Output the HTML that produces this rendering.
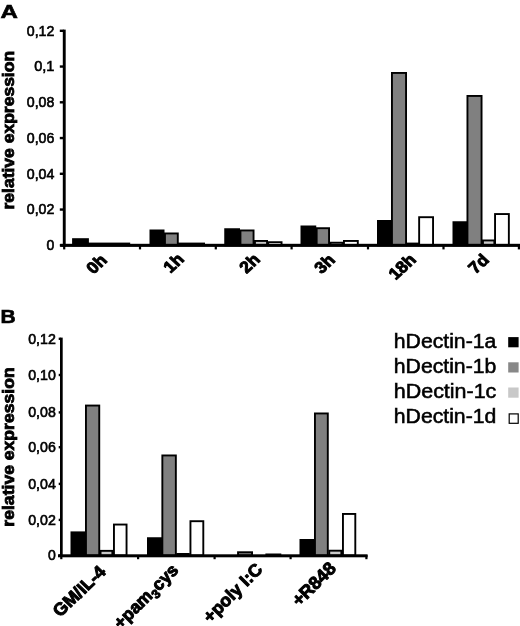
<!DOCTYPE html>
<html><head><meta charset="utf-8"><title>Figure</title>
<style>
html,body{margin:0;padding:0;background:#fff;}
svg{display:block;}
text{font-family:"Liberation Sans",Arial,Helvetica,sans-serif;fill:#000;}
</style></head>
<body>
<svg width="520" height="626" viewBox="0 0 520 626">
<rect width="520" height="626" fill="#fff"/>
<g shape-rendering="auto">
<rect x="73.05" y="239.15" width="14.90" height="6.15" fill="#000" stroke="#000" stroke-width="1.9"/>
<rect x="88.95" y="243.55" width="40.30" height="1.75" fill="#000" stroke="#000" stroke-width="1.9"/>
<rect x="150.45" y="230.45" width="13.10" height="14.85" fill="#000" stroke="#000" stroke-width="1.9"/>
<rect x="164.95" y="233.45" width="12.85" height="11.85" fill="#808080" stroke="#000" stroke-width="1.9"/>
<rect x="178.95" y="243.55" width="25.10" height="1.75" fill="#000" stroke="#000" stroke-width="1.9"/>
<rect x="225.20" y="229.20" width="13.85" height="16.10" fill="#000" stroke="#000" stroke-width="1.9"/>
<rect x="240.45" y="230.45" width="13.10" height="14.85" fill="#808080" stroke="#000" stroke-width="1.9"/>
<rect x="254.95" y="240.95" width="12.10" height="4.35" fill="#c8c8c8" stroke="#000" stroke-width="1.9"/>
<rect x="268.25" y="242.20" width="13.30" height="3.10" fill="#fff" stroke="#000" stroke-width="1.9"/>
<rect x="301.45" y="226.45" width="13.85" height="18.85" fill="#000" stroke="#000" stroke-width="1.9"/>
<rect x="316.65" y="228.20" width="12.40" height="17.10" fill="#808080" stroke="#000" stroke-width="1.9"/>
<rect x="330.45" y="242.70" width="12.10" height="2.60" fill="#c8c8c8" stroke="#000" stroke-width="1.9"/>
<rect x="343.95" y="240.95" width="13.85" height="4.35" fill="#fff" stroke="#000" stroke-width="1.9"/>
<rect x="377.95" y="220.95" width="13.60" height="24.35" fill="#000" stroke="#000" stroke-width="1.9"/>
<rect x="391.95" y="72.95" width="14.10" height="172.35" fill="#808080" stroke="#000" stroke-width="1.9"/>
<rect x="407.25" y="243.55" width="10.80" height="1.75" fill="#000" stroke="#000" stroke-width="1.9"/>
<rect x="419.15" y="217.20" width="13.90" height="28.10" fill="#fff" stroke="#000" stroke-width="1.9"/>
<rect x="453.45" y="222.20" width="13.60" height="23.10" fill="#000" stroke="#000" stroke-width="1.9"/>
<rect x="467.45" y="95.95" width="14.10" height="149.35" fill="#808080" stroke="#000" stroke-width="1.9"/>
<rect x="482.95" y="240.45" width="11.40" height="4.85" fill="#c8c8c8" stroke="#000" stroke-width="1.9"/>
<rect x="495.05" y="214.05" width="13.80" height="31.25" fill="#fff" stroke="#000" stroke-width="1.9"/>
<rect x="71.45" y="532.35" width="13.35" height="23.15" fill="#000" stroke="#000" stroke-width="1.9"/>
<rect x="85.95" y="405.55" width="13.30" height="149.95" fill="#808080" stroke="#000" stroke-width="1.9"/>
<rect x="100.55" y="550.85" width="11.80" height="4.65" fill="#c8c8c8" stroke="#000" stroke-width="1.9"/>
<rect x="113.95" y="524.55" width="12.60" height="30.95" fill="#fff" stroke="#000" stroke-width="1.9"/>
<rect x="147.95" y="538.20" width="13.40" height="17.30" fill="#000" stroke="#000" stroke-width="1.9"/>
<rect x="162.35" y="455.45" width="13.50" height="100.05" fill="#808080" stroke="#000" stroke-width="1.9"/>
<rect x="177.20" y="553.95" width="11.65" height="1.55" fill="#c8c8c8" stroke="#000" stroke-width="1.9"/>
<rect x="190.45" y="521.20" width="12.85" height="34.30" fill="#fff" stroke="#000" stroke-width="1.9"/>
<rect x="238.05" y="552.25" width="14.00" height="3.25" fill="#808080" stroke="#000" stroke-width="1.9"/>
<rect x="266.35" y="554.45" width="14.00" height="1.05" fill="#000" stroke="#000" stroke-width="1.9"/>
<rect x="300.45" y="539.95" width="13.10" height="15.55" fill="#000" stroke="#000" stroke-width="1.9"/>
<rect x="314.95" y="413.45" width="12.85" height="142.05" fill="#808080" stroke="#000" stroke-width="1.9"/>
<rect x="329.25" y="550.70" width="12.10" height="4.80" fill="#c8c8c8" stroke="#000" stroke-width="1.9"/>
<rect x="342.95" y="513.95" width="12.35" height="41.55" fill="#fff" stroke="#000" stroke-width="1.9"/>
</g>
<g>
<rect x="62.8" y="29.6" width="2.9" height="217.2" fill="#000"/>
<rect x="60.2" y="243.8" width="459.8" height="3.1" fill="#000"/>
<rect x="59.8" y="29.60" width="4" height="2.4" fill="#000"/>
<rect x="59.8" y="65.35" width="4" height="2.4" fill="#000"/>
<rect x="59.8" y="101.10" width="4" height="2.4" fill="#000"/>
<rect x="59.8" y="136.85" width="4" height="2.4" fill="#000"/>
<rect x="59.8" y="172.60" width="4" height="2.4" fill="#000"/>
<rect x="59.8" y="208.35" width="4" height="2.4" fill="#000"/>
<rect x="59.8" y="244.10" width="4" height="2.4" fill="#000"/>
<rect x="63.10" y="245" width="2.2" height="4.4" fill="#000"/>
<rect x="138.90" y="245" width="2.2" height="4.4" fill="#000"/>
<rect x="214.70" y="245" width="2.2" height="4.4" fill="#000"/>
<rect x="290.50" y="245" width="2.2" height="4.4" fill="#000"/>
<rect x="366.90" y="245" width="2.2" height="4.4" fill="#000"/>
<rect x="442.40" y="245" width="2.2" height="4.4" fill="#000"/>
<rect x="517.80" y="245" width="2.2" height="4.4" fill="#000"/>
<rect x="60.0" y="337.6" width="2.7" height="219.4" fill="#000"/>
<rect x="58" y="554.3" width="309.6" height="3.0" fill="#000"/>
<rect x="58.7" y="337.60" width="2" height="2.4" fill="#000"/>
<rect x="58.7" y="373.80" width="2" height="2.4" fill="#000"/>
<rect x="58.7" y="411.20" width="2" height="2.4" fill="#000"/>
<rect x="58.7" y="446.00" width="2" height="2.4" fill="#000"/>
<rect x="58.7" y="482.70" width="2" height="2.4" fill="#000"/>
<rect x="58.7" y="518.70" width="2" height="2.4" fill="#000"/>
<rect x="58.7" y="554.40" width="2" height="2.4" fill="#000"/>
<rect x="60.20" y="555" width="2.2" height="4.2" fill="#000"/>
<rect x="137.00" y="555" width="2.2" height="4.2" fill="#000"/>
<rect x="213.50" y="555" width="2.2" height="4.2" fill="#000"/>
<rect x="289.50" y="555" width="2.2" height="4.2" fill="#000"/>
<rect x="365.30" y="555" width="2.2" height="4.2" fill="#000"/>
</g>
<g>
<text x="0.6" y="17.9" font-size="19" font-weight="bold" text-anchor="start" textLength="17.4" lengthAdjust="spacingAndGlyphs" stroke="#000" stroke-width="0.6">A</text>
<text x="0.6" y="323.4" font-size="19" font-weight="bold" text-anchor="start" textLength="15.2" lengthAdjust="spacingAndGlyphs" stroke="#000" stroke-width="0.6">B</text>
<text x="54.4" y="35.60" font-size="14.1" font-weight="normal" text-anchor="end" textLength="27.6" lengthAdjust="spacingAndGlyphs" stroke="#000" stroke-width="0.6">0,12</text>
<text x="54.4" y="71.35" font-size="14.1" font-weight="normal" text-anchor="end" textLength="20.2" lengthAdjust="spacingAndGlyphs" stroke="#000" stroke-width="0.6">0,1</text>
<text x="54.4" y="107.10" font-size="14.1" font-weight="normal" text-anchor="end" textLength="27.6" lengthAdjust="spacingAndGlyphs" stroke="#000" stroke-width="0.6">0,08</text>
<text x="54.4" y="142.85" font-size="14.1" font-weight="normal" text-anchor="end" textLength="27.6" lengthAdjust="spacingAndGlyphs" stroke="#000" stroke-width="0.6">0,06</text>
<text x="54.4" y="178.60" font-size="14.1" font-weight="normal" text-anchor="end" textLength="27.6" lengthAdjust="spacingAndGlyphs" stroke="#000" stroke-width="0.6">0,04</text>
<text x="54.4" y="214.35" font-size="14.1" font-weight="normal" text-anchor="end" textLength="27.6" lengthAdjust="spacingAndGlyphs" stroke="#000" stroke-width="0.6">0,02</text>
<text x="54.4" y="250.10" font-size="14.1" font-weight="normal" text-anchor="end" textLength="7.8" lengthAdjust="spacingAndGlyphs" stroke="#000" stroke-width="0.6">0</text>
<text x="55.8" y="343.60" font-size="14.1" font-weight="normal" text-anchor="end" textLength="27.6" lengthAdjust="spacingAndGlyphs" stroke="#000" stroke-width="0.6">0,12</text>
<text x="55.8" y="379.80" font-size="14.1" font-weight="normal" text-anchor="end" textLength="27.6" lengthAdjust="spacingAndGlyphs" stroke="#000" stroke-width="0.6">0,10</text>
<text x="55.8" y="417.20" font-size="14.1" font-weight="normal" text-anchor="end" textLength="27.6" lengthAdjust="spacingAndGlyphs" stroke="#000" stroke-width="0.6">0,08</text>
<text x="55.8" y="452.00" font-size="14.1" font-weight="normal" text-anchor="end" textLength="27.6" lengthAdjust="spacingAndGlyphs" stroke="#000" stroke-width="0.6">0,06</text>
<text x="55.8" y="488.70" font-size="14.1" font-weight="normal" text-anchor="end" textLength="27.6" lengthAdjust="spacingAndGlyphs" stroke="#000" stroke-width="0.6">0,04</text>
<text x="55.8" y="524.70" font-size="14.1" font-weight="normal" text-anchor="end" textLength="27.6" lengthAdjust="spacingAndGlyphs" stroke="#000" stroke-width="0.6">0,02</text>
<text x="55.8" y="560.40" font-size="14.1" font-weight="normal" text-anchor="end" textLength="7.8" lengthAdjust="spacingAndGlyphs" stroke="#000" stroke-width="0.6">0</text>
<text transform="translate(14.3 130.2) rotate(-90) scale(1.095 1)" font-size="16" font-weight="bold" text-anchor="middle" stroke="#000" stroke-width="0.8">relative expression</text>
<text transform="translate(14.4 447) rotate(-90) scale(1.1 1)" font-size="16" font-weight="bold" text-anchor="middle" stroke="#000" stroke-width="0.8">relative expression</text>
<text transform="translate(108 261.2) scale(1.03 0.96) rotate(-45)" font-size="17" font-weight="bold" text-anchor="end" stroke="#000" stroke-width="1.0" stroke-linejoin="round">0h</text>
<text transform="translate(185 260.2) scale(1.03 0.96) rotate(-45)" font-size="17" font-weight="bold" text-anchor="end" stroke="#000" stroke-width="1.0" stroke-linejoin="round">1h</text>
<text transform="translate(261 260.5) scale(1.03 0.96) rotate(-45)" font-size="17" font-weight="bold" text-anchor="end" stroke="#000" stroke-width="1.0" stroke-linejoin="round">2h</text>
<text transform="translate(336 261) scale(1.03 0.96) rotate(-45)" font-size="17" font-weight="bold" text-anchor="end" stroke="#000" stroke-width="1.0" stroke-linejoin="round">3h</text>
<text transform="translate(417 260.7) scale(1.03 0.96) rotate(-45)" font-size="17" font-weight="bold" text-anchor="end" stroke="#000" stroke-width="1.0" stroke-linejoin="round">18h</text>
<text transform="translate(490 261) scale(1.03 0.96) rotate(-45)" font-size="17" font-weight="bold" text-anchor="end" stroke="#000" stroke-width="1.0" stroke-linejoin="round">7d</text>
<text transform="translate(106.8 573) scale(1.03 0.99) rotate(-45)" font-size="17.5" font-weight="bold" text-anchor="end" stroke="#000" stroke-width="1.0" stroke-linejoin="round">GM/IL-4</text>
<text transform="translate(179.5 571) scale(1.0 1.0) rotate(-45)" font-size="17.5" font-weight="bold" text-anchor="end" stroke="#000" stroke-width="1.0" stroke-linejoin="round">+pam<tspan font-size="12.5" dy="4" dx="0.3">3</tspan><tspan dy="-4" dx="0.3">cys</tspan></text>
<text transform="translate(263.5 570.5) scale(1.0 1.0) rotate(-45)" font-size="17.7" font-weight="bold" text-anchor="end" stroke="#000" stroke-width="1.0" stroke-linejoin="round">+poly I:C</text>
<text transform="translate(337 569.5) scale(1.0 1.0) rotate(-45)" font-size="18" font-weight="bold" text-anchor="end" stroke="#000" stroke-width="1.0" stroke-linejoin="round">+R848</text>
<text x="393.8" y="347.8" font-size="20" font-weight="normal" text-anchor="start" textLength="102.5" lengthAdjust="spacingAndGlyphs" stroke="#000" stroke-width="0.55">hDectin-1a</text>
<rect x="508.2" y="337.1" width="10.4" height="10.2" fill="#000"/>
<text x="393.8" y="373.0" font-size="20" font-weight="normal" text-anchor="start" textLength="102.5" lengthAdjust="spacingAndGlyphs" stroke="#000" stroke-width="0.55">hDectin-1b</text>
<rect x="508.2" y="362.3" width="10.4" height="10.2" fill="#888"/>
<text x="393.8" y="398.2" font-size="20" font-weight="normal" text-anchor="start" textLength="102.5" lengthAdjust="spacingAndGlyphs" stroke="#000" stroke-width="0.55">hDectin-1c</text>
<rect x="508.2" y="387.5" width="10.4" height="10.2" fill="#c8c8c8"/>
<text x="393.8" y="423.4" font-size="20" font-weight="normal" text-anchor="start" textLength="102.5" lengthAdjust="spacingAndGlyphs" stroke="#000" stroke-width="0.55">hDectin-1d</text>
<rect x="509.2" y="413.9" width="9" height="9.4" fill="#fff" stroke="#000" stroke-width="1.2"/>
</g>
</svg>
</body></html>
